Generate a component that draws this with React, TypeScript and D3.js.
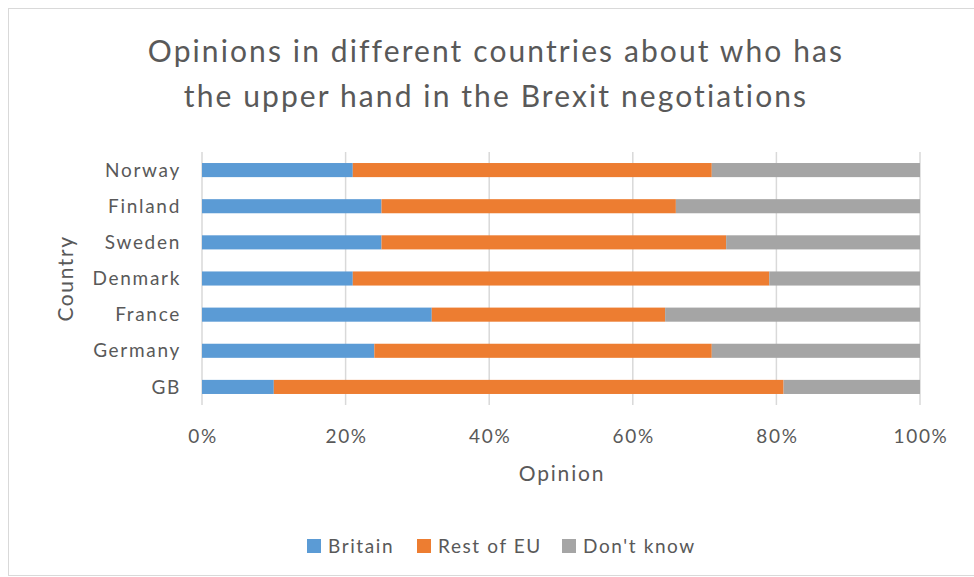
import React from "react";
import * as d3 from "d3";

const countries = ["Norway", "Finland", "Sweden", "Denmark", "France", "Germany", "GB"];
const britain = [21, 25, 25, 21, 32, 24, 10];
const restOfEU = [50, 41, 48, 58, 32.5, 47, 71];
const dontKnow = [29, 34, 27, 21, 35.5, 29, 19];
const seriesNames = ["Britain", "Rest of EU", "Don't know"];
const seriesColors = ["#5b9bd5", "#ed7d31", "#a5a5a5"];
const xTicks = [0, 0.2, 0.4, 0.6, 0.8, 1];
const titleLines = ["Opinions in different countries about who has", "the upper hand in the Brexit negotiations"];

const W = 974;
const H = 577;
const FONT = "Lato, 'Open Sans', sans-serif";
const TEXT = "#595959";

export default function App() {
  const left = 202, right = 920, top = 152, bottom = 405;
  const x = d3.scaleLinear().domain([0, 1]).range([left, right]);
  const y = d3.scaleBand().domain(countries).range([top, bottom]).paddingInner(0.61).paddingOuter(0.305);

  const stack = d3.stack<any>().keys(["0", "1", "2"]).offset(d3.stackOffsetExpand)(
    countries.map((c, i) => ({ c, "0": britain[i], "1": restOfEU[i], "2": dontKnow[i] }))
  );

  const fmt = d3.format(".0%");
  const legendX = [307, 417, 562];

  return (
    <svg width={W} height={H} style={{ display: "block", position: "absolute", left: 0, top: 0 }} fontFamily={FONT}>
      <rect x={0} y={0} width={W} height={H} fill="#ffffff" />
      <rect x={8.5} y={8.5} width={W - 2} height={H - 10} fill="#ffffff" stroke="#d9d9d9" strokeWidth={1} />
      {titleLines.map((t, i) => (
        <text key={i} x={496} y={62 + i * 45} textAnchor="middle" fontSize={30} letterSpacing={2.1} fill={TEXT}>{t}</text>
      ))}
      {xTicks.map((t) => (
        <line key={t} x1={x(t)} x2={x(t)} y1={top} y2={bottom} stroke="#d9d9d9" strokeWidth={1.5} />
      ))}
      {stack.map((s, si) => (
        <g key={si} fill={seriesColors[si]}>
          {s.map((d: any, i: number) => (
            <rect key={i} x={x(d[0])} y={y(countries[i])!} width={x(d[1]) - x(d[0])} height={y.bandwidth()} />
          ))}
        </g>
      ))}
      {countries.map((c) => (
        <text key={c} x={181} y={y(c)! + y.bandwidth() / 2} dy="0.35em" textAnchor="end" fontSize={19} letterSpacing={1.7} fill={TEXT}>{c}</text>
      ))}
      {xTicks.map((t) => (
        <text key={t} x={x(t) + 1} y={436} dy="0.35em" textAnchor="middle" fontSize={19} letterSpacing={1.7} fill={TEXT}>{fmt(t)}</text>
      ))}
      <text x={562} y={474} dy="0.35em" textAnchor="middle" fontSize={21} letterSpacing={1.8} fill={TEXT}>Opinion</text>
      <text transform={`translate(66,${(top + bottom) / 2}) rotate(-90)`} dy="0.35em" textAnchor="middle" fontSize={21} letterSpacing={1.6} fill={TEXT}>Country</text>
      {seriesNames.map((n, i) => (
        <g key={n}>
          <rect x={legendX[i]} y={539} width={14} height={14} fill={seriesColors[i]} />
          <text x={legendX[i] + 21} y={546} dy="0.35em" fontSize={19} letterSpacing={1.6} fill={TEXT}>{n}</text>
        </g>
      ))}
    </svg>
  );
}
